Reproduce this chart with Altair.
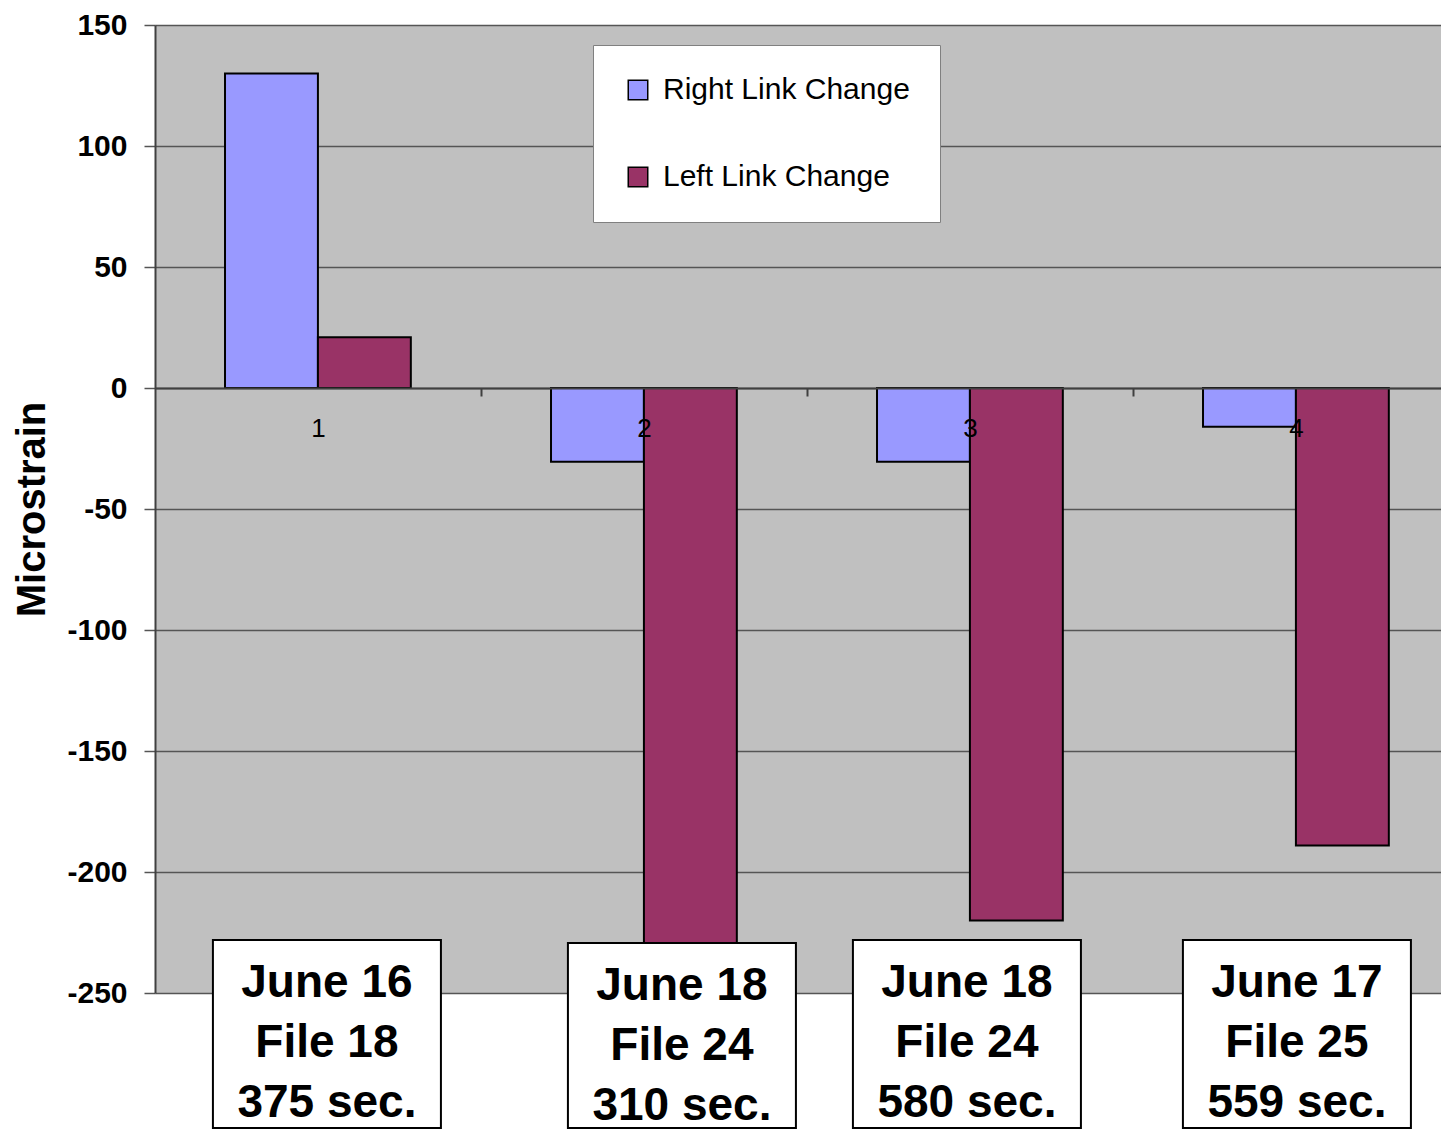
import altair as alt
import pandas as pd

# ---- data ----
categories = ["1", "2", "3", "4"]
series_names = ["Right Link Change", "Left Link Change"]
right_link = [130, -30.5, -30.5, -16]
left_link = [21, -240, -220, -189]
box_labels = [
    ["June 16", "File 18", "375 sec."],
    ["June 18", "File 24", "310 sec."],
    ["June 18", "File 24", "580 sec."],
    ["June 17", "File 25", "559 sec."],
]
y_ticks = [-250, -200, -150, -100, -50, 0, 50, 100, 150]

rows = []
for c, r, l in zip(categories, right_link, left_link):
    rows.append({"cat": c, "series": series_names[0], "value": r})
    rows.append({"cat": c, "series": series_names[1], "value": l})
df = pd.DataFrame(rows)

FONT = "Liberation Sans, Arial, sans-serif"
TOP = 17
PLOT_W, PLOT_H = 1286, 968

x_scale = alt.Scale(domain=categories, paddingInner=0.43, paddingOuter=0.1874, align=0.573)
y_scale = alt.Scale(domain=[-250, 150], nice=False, zero=False)

zero_px = PLOT_H * 150 / 400.0
half_step = 163

bars = alt.Chart(df).mark_bar(stroke="black", strokeWidth=2).encode(
    x=alt.X("cat:N", scale=x_scale, sort=categories,
            axis=alt.Axis(title=None, orient="bottom", offset=-(PLOT_H - zero_px),
                          labelAngle=0, labelFontSize=26, labelFont=FONT,
                          labelColor="black", labelPadding=19,
                          domainColor="#404040", domainWidth=2,
                          tickOffset=half_step, labelOffset=-half_step,
                          tickSize=8, tickColor="#404040",
                          tickWidth=2, grid=False, zindex=1)),
    xOffset=alt.XOffset("series:N", sort=series_names),
    y=alt.Y("value:Q", scale=y_scale,
            axis=alt.Axis(title="Microstrain", values=y_ticks, titleFontSize=40,
                          titleFont=FONT, titleFontWeight="bold", titleColor="black",
                          titlePadding=14, labelFontSize=30, labelFont=FONT,
                          labelFontWeight="bold", labelColor="black", labelPadding=17,
                          labelExpr="toString(datum.value)",
                          tickSize=11, tickColor="#555555", tickWidth=1.5,
                          domainColor="#404040", domainWidth=2,
                          grid=True, gridColor="#555555", gridWidth=1.3)),
    color=alt.Color("series:N", sort=series_names,
                    scale=alt.Scale(domain=series_names, range=["#9999FF", "#993366"]),
                    legend=alt.Legend(title=None, orient="none", legendX=438, legendY=45 - 8 - TOP,
                                      fillColor="white", strokeColor="#808080",
                                      padding=30, rowPadding=57,
                                      symbolType="square", symbolSize=380,
                                      symbolStrokeColor="black", symbolStrokeWidth=1.5,
                                      labelFontSize=30, labelFont=FONT, labelLimit=500,
                                      labelColor="black", labelOffset=10)),
)

# annotation boxes below the plot (layout nudges per box)
box_nudge_x = [9, 38, -3, 1]
box_nudge_y = [0, 3, 0, 0]
BOX_TOP, BOX_BOTTOM, BOX_W = 940 - 8 - TOP, 1128 - 8 - TOP, 228
TEXT_BASE = 997 - 8 - TOP

layers = [bars]
for c, lines, nx, ny in zip(categories, box_labels, box_nudge_x, box_nudge_y):
    bdf = pd.DataFrame({"cat": [c], "label": ["\n".join(lines)]})
    box = alt.Chart(bdf).mark_bar(width=BOX_W, fill="white", stroke="black",
                                  strokeWidth=2, xOffset=nx).encode(
        x=alt.X("cat:N", scale=x_scale, sort=categories),
        y=alt.value(BOX_TOP + ny),
        y2=alt.value(BOX_BOTTOM),
    )
    txt = alt.Chart(bdf).mark_text(font=FONT, fontSize=46, fontWeight="bold",
                                   color="black", align="center",
                                   baseline="alphabetic", lineBreak="\n",
                                   lineHeight=60, xOffset=nx).encode(
        x=alt.X("cat:N", scale=x_scale, sort=categories),
        y=alt.value(TEXT_BASE + ny),
        text="label:N",
    )
    layers += [box, txt]

chart = alt.layer(*layers).properties(
    width=PLOT_W, height=PLOT_H,
    autosize=alt.AutoSizeParams(type="none"),
    padding={"left": 147, "top": TOP, "right": 0, "bottom": 1122 - TOP - PLOT_H},
).configure_view(fill="#C0C0C0", stroke=None)

chart.save("out.html", embed_options={"renderer": "svg", "actions": False})
